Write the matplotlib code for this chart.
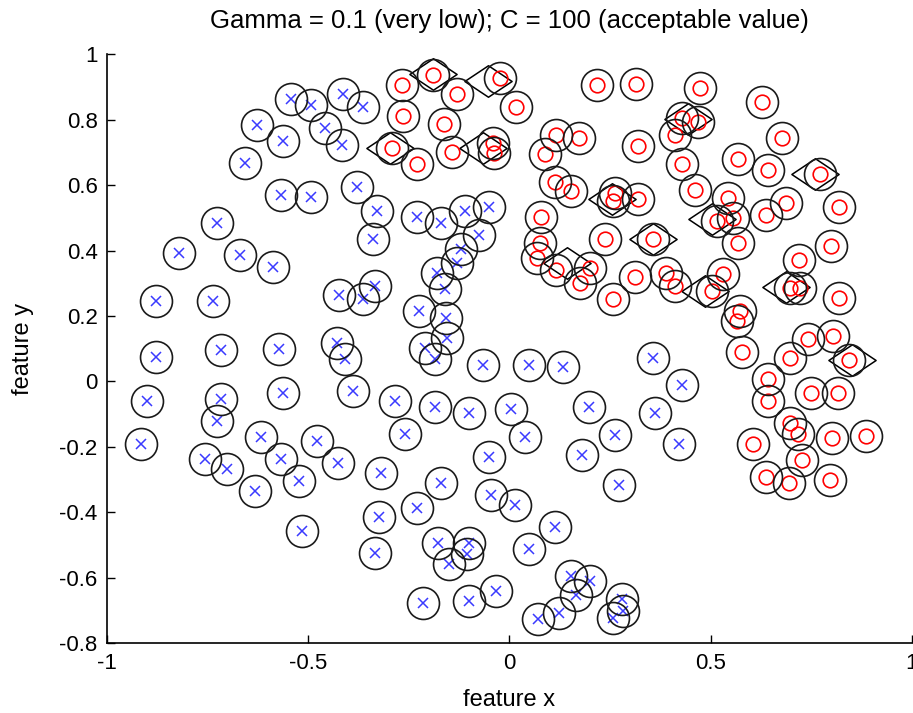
import matplotlib
matplotlib.use('Agg')
import matplotlib.pyplot as plt
from matplotlib.path import Path
import numpy as np

plt.rcParams['font.family'] = ['Liberation Sans', 'DejaVu Sans']
plt.rcParams['axes.unicode_minus'] = False

# class 0 (blue x)
neg_x = [-0.544, -0.415, -0.364, -0.494, -0.628, -0.563, -0.459, -0.417, -0.658, -0.568,
         -0.494, -0.379, -0.727, -0.329, -0.339, -0.229, -0.170, -0.110, -0.050, -0.076,
         -0.121, -0.131, -0.179, -0.160, -0.159, -0.156, -0.210, -0.185, -0.225, -0.065,
         -0.822, -0.669, -0.588, -0.878, -0.737, -0.878, -0.718, -0.573, -0.902, -0.718,
         -0.727, -0.563, -0.917, -0.619, -0.757, -0.702, -0.633, -0.568, -0.524, -0.517,
         -0.423, -0.335, -0.364, -0.430, -0.409, -0.389, -0.285, -0.260, -0.478, -0.427,
         -0.185, -0.100, -0.320, -0.325, -0.335, -0.229, -0.169, -0.050, -0.046, -0.177,
         -0.150, -0.100, -0.106, -0.214, -0.101, -0.034, 0.049, 0.134, 0.358, 0.428,
         0.005, 0.199, 0.362, 0.039, 0.262, 0.422, 0.180, 0.273, 0.014, 0.113,
         0.049, 0.153, 0.200, 0.165, 0.123, 0.070, 0.281, 0.283, 0.258]
neg_y = [0.865, 0.880, 0.839, 0.845, 0.785, 0.735, 0.774, 0.723, 0.669, 0.570,
         0.564, 0.594, 0.486, 0.522, 0.437, 0.502, 0.485, 0.522, 0.533, 0.449,
         0.405, 0.363, 0.331, 0.282, 0.193, 0.134, 0.102, 0.068, 0.216, 0.050,
         0.392, 0.387, 0.351, 0.246, 0.246, 0.076, 0.095, 0.100, -0.060, -0.053,
         -0.121, -0.034, -0.192, -0.170, -0.238, -0.267, -0.335, -0.236, -0.304, -0.457,
         0.265, 0.292, 0.253, 0.119, 0.068, -0.029, -0.060, -0.161, -0.182, -0.248,
         -0.077, -0.095, -0.281, -0.414, -0.525, -0.386, -0.311, -0.231, -0.347, -0.493,
         -0.557, -0.493, -0.528, -0.678, -0.671, -0.641, 0.050, 0.044, 0.071, -0.011,
         -0.085, -0.077, -0.095, -0.170, -0.164, -0.192, -0.225, -0.317, -0.378, -0.444,
         -0.511, -0.595, -0.610, -0.654, -0.707, -0.727, -0.666, -0.702, -0.724]

# class 1 (red o)
pos_x = [-0.268, -0.190, -0.130, -0.024, 0.016, -0.264, -0.163, -0.291, -0.229, -0.144,
         -0.040, -0.039, 0.218, 0.314, 0.474, 0.116, 0.174, 0.088, 0.428, 0.469,
         0.412, 0.319, 0.428, 0.113, 0.153, 0.262, 0.257, 0.319, 0.461, 0.078,
         0.076, 0.238, 0.358, 0.627, 0.677, 0.568, 0.642, 0.771, 0.544, 0.515,
         0.557, 0.637, 0.687, 0.820, 0.568, 0.800, 0.068, 0.116, 0.175, 0.200,
         0.312, 0.258, 0.389, 0.412, 0.504, 0.532, 0.720, 0.698, 0.723, 0.820,
         0.573, 0.565, 0.578, 0.742, 0.805, 0.845, 0.698, 0.644, 0.644, 0.750,
         0.818, 0.698, 0.718, 0.606, 0.801, 0.886, 0.727, 0.637, 0.696, 0.796]
pos_y = [0.906, 0.936, 0.878, 0.928, 0.839, 0.812, 0.787, 0.715, 0.664, 0.702,
         0.730, 0.700, 0.907, 0.909, 0.898, 0.753, 0.744, 0.695, 0.807, 0.794,
         0.753, 0.720, 0.664, 0.610, 0.583, 0.577, 0.552, 0.557, 0.586, 0.503,
         0.424, 0.437, 0.435, 0.853, 0.744, 0.681, 0.646, 0.634, 0.562, 0.491,
         0.501, 0.508, 0.547, 0.534, 0.424, 0.414, 0.378, 0.341, 0.301, 0.347,
         0.320, 0.251, 0.333, 0.292, 0.277, 0.328, 0.372, 0.287, 0.287, 0.254,
         0.216, 0.185, 0.091, 0.129, 0.139, 0.065, 0.071, 0.009, -0.060, -0.034,
         -0.034, -0.126, -0.161, -0.190, -0.172, -0.167, -0.241, -0.292, -0.311, -0.302]

# small closed pieces of the decision boundary
iso_x = [-0.297, -0.190, -0.053, -0.066, 0.143, 0.357, 0.504, 0.760, 0.852, 0.688, 0.486, 0.445, 0.255]
iso_y = [0.714, 0.940, 0.919, 0.714, 0.362, 0.435, 0.497, 0.634, 0.065, 0.288, 0.277, 0.802, 0.557]

xtick_vals = [-1, -0.5, 0, 0.5, 1]
xtick_text = ['-1', '-0.5', '0', '0.5', '1']
ytick_vals = [-0.8, -0.6, -0.4, -0.2, 0, 0.2, 0.4, 0.6, 0.8, 1]
ytick_text = ['-0.8', '-0.6', '-0.4', '-0.2', '0', '0.2', '0.4', '0.6', '0.8', '1']

diamond = Path([(-1.5, 0), (0, 1), (1.5, 0), (0, -1), (-1.5, 0)],
               [Path.MOVETO, Path.LINETO, Path.LINETO, Path.LINETO, Path.CLOSEPOLY])

fig = plt.figure(figsize=(9.13, 7.13), dpi=100)
ax = fig.add_axes([0.1175, 0.098, 0.881, 0.8257])

ax.plot(iso_x, iso_y, ls='none', marker=diamond, ms=34, mfc='none', mec='black', mew=1.1)
ax.plot(neg_x, neg_y, ls='none', marker='x', ms=7, mec='#3a3aff', mew=1.1)
ax.plot(pos_x, pos_y, ls='none', marker='o', ms=10.5, mfc='none', mec='red', mew=1.2)
sv_x = neg_x + pos_x
sv_y = neg_y + pos_y
ax.plot(sv_x, sv_y, ls='none', marker='o', ms=23, mfc='none', mec='#1a1a1a', mew=1.2)

ax.set_xlim(-1, 1)
ax.set_ylim(-0.8, 1)
ax.set_xticks(xtick_vals)
ax.set_xticklabels(xtick_text)
ax.set_yticks(ytick_vals)
ax.set_yticklabels(ytick_text)
ax.tick_params(direction='in', length=6, width=1, labelsize=16, pad=7)
ax.spines['top'].set_visible(False)
ax.spines['right'].set_visible(False)
ax.spines['left'].set_linewidth(1.2)
ax.spines['bottom'].set_linewidth(1.2)

ax.set_xlabel('feature x', fontsize=17, labelpad=11)
ax.set_ylabel('feature y', fontsize=17, labelpad=18)
ax.set_title('Gamma = 0.1 (very low); C = 100 (acceptable value)', fontsize=18.5, pad=19)

fig.savefig('out.png', dpi=100)
